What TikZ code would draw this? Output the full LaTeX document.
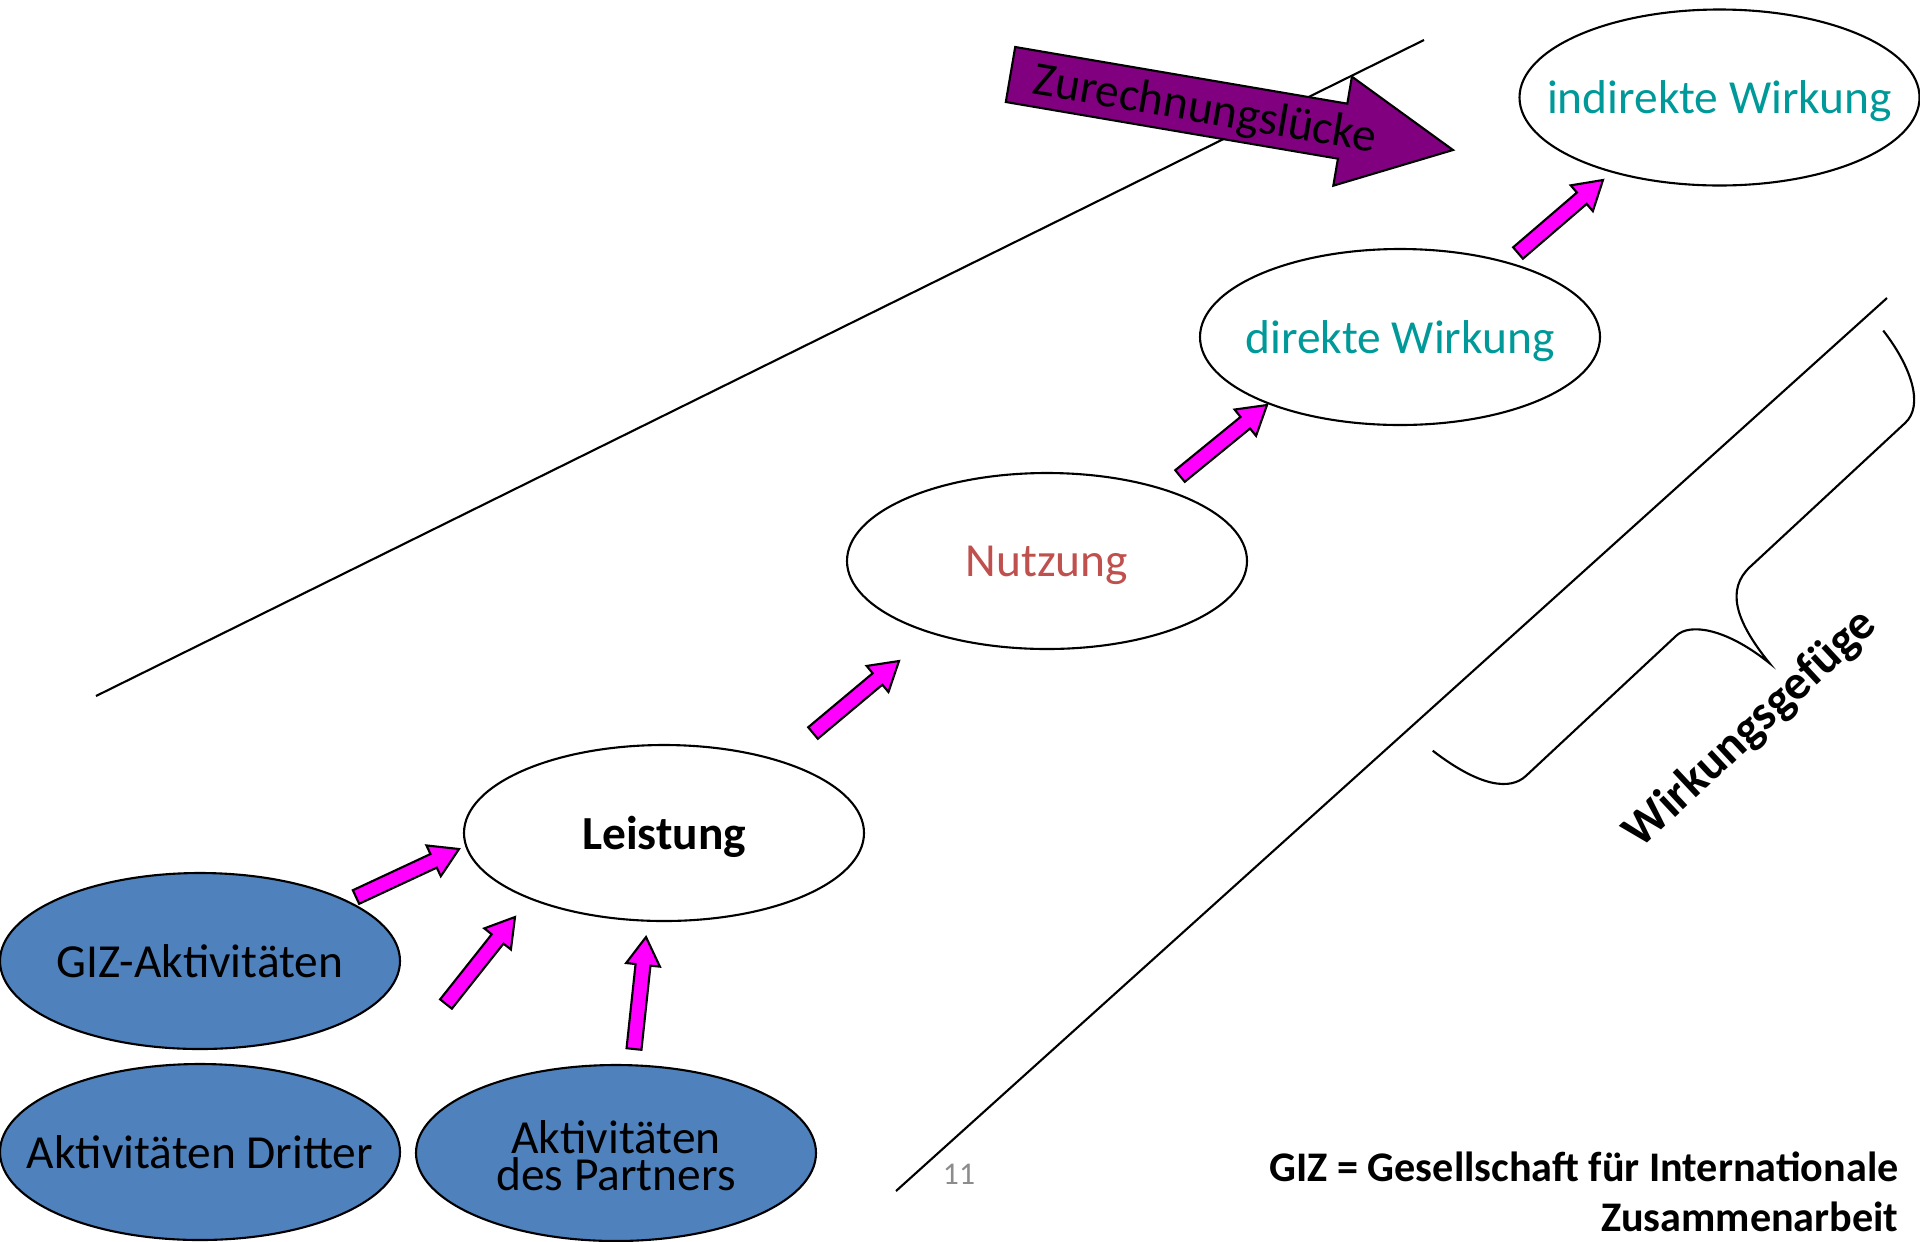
\documentclass[tikz,border=0pt]{standalone}
\usepackage{fontspec}
\setmainfont{Carlito}
\usetikzlibrary{calc, shapes.geometric}

\definecolor{actblue}{HTML}{4F81BD}
\definecolor{effteal}{HTML}{009999}
\definecolor{usered}{HTML}{C0504D}
\definecolor{steppink}{HTML}{FF00FF}
\definecolor{gappurple}{HTML}{800080}

% block arrow: style, tail, tip, shaft half width, head half width, head length
\newcommand{\blockarrow}[6]{%
  \path ($(#3)!#6!(#2)$) coordinate (neck);
  \draw[#1] ($(#2)!#4!90:(#3)$) -- ($(neck)!#4!90:(#3)$)
    -- ($(neck)!#5!90:(#3)$) -- (#3) -- ($(neck)!#5!-90:(#3)$)
    -- ($(neck)!#4!-90:(#3)$) -- ($(#2)!#4!-90:(#3)$) -- cycle;}

\begin{document}
\begin{tikzpicture}[
    oval/.style={draw, ellipse, fill=white, minimum width=4cm,
                 minimum height=1.76cm, inner sep=0pt, line width=0.6pt},
    act/.style={oval, fill=actblue},
    lbl/.style={font=\fontsize{13.5}{10.5}\selectfont, align=center},
    lbl low/.style={lbl, yshift=-0.04cm},
    step arrow/.style={fill=steppink, draw=black, line width=0.6pt},
    gap arrow/.style={fill=gappurple, draw=black, line width=0.6pt},
    border/.style={line width=0.6pt}
]
\useasboundingbox (0,0) rectangle (19.2,-12.41);

% Dividing lines
\draw[border] (0.96,-6.96) -- (14.24,-0.40);
\draw[border] (8.96,-11.91) -- (18.87,-2.98);

% Result chain
\node[oval, label={[lbl low, text=effteal]center:indirekte Wirkung}] (ind) at (17.195,-0.975) {};
\node[oval, label={[lbl low, text=effteal]center:direkte Wirkung}] (dir) at (14.0,-3.37) {};
\node[oval, label={[lbl low, text=usered]center:Nutzung}] (use) at (10.47,-5.61) {};
\node[oval, label={[lbl low, font=\fontsize{13.5}{10.5}\selectfont\bfseries]center:Leistung}] (out) at (6.64,-8.33) {};

% Activities
\node[act, label={[lbl]center:GIZ-Aktivitäten}] (giz) at (2.0,-9.61) {};
\node[act, label={[lbl]center:Aktivitäten Dritter}] (third) at (2.0,-11.52) {};
\node[act, label={[lbl, yshift=-0.03cm]center:{Aktivitäten\\des Partners}}] (partner) at (6.16,-11.53) {};

% Arrow ends
\coordinate (a1s) at (3.56,-8.97);   \coordinate (a1e) at (4.59,-8.49);
\coordinate (a2s) at (4.46,-10.04);  \coordinate (a2e) at (5.15,-9.17);
\coordinate (a3s) at (6.34,-10.49);  \coordinate (a3e) at (6.46,-9.37);
\coordinate (a4s) at (8.13,-7.33);   \coordinate (a4e) at (8.99,-6.61);
\coordinate (a5s) at (11.80,-4.76);  \coordinate (a5e) at (12.67,-4.05);
\coordinate (a6s) at (15.18,-2.53);  \coordinate (a6e) at (16.03,-1.80);
\coordinate (zs) at (10.105,-0.745); \coordinate (ze) at (14.53,-1.50);

% Pink arrows
\foreach \i in {1,...,6}
  \blockarrow{step arrow}{a\i s}{a\i e}{0.075cm}{0.17cm}{0.28cm};

% Attribution gap
\blockarrow{gap arrow}{zs}{ze}{0.279cm}{0.553cm}{1.12cm}
\path (zs) -- (ze) node[pos=0.44, sloped, lbl, yshift=-0.03cm] {Zurechnungslücke};

% Brace
\begin{scope}[shift={(14.327,-7.507)}, rotate=43]
  \draw[border] (0,0) .. controls (0.1,-0.6) and (0.3,-0.82) .. (0.51,-0.82)
    -- (2.57,-0.82) .. controls (2.75,-0.82) and (2.98,-1.1) .. (3.06,-1.656)
    .. controls (3.1,-1.1) and (3.25,-0.82) .. (3.575,-0.82)
    -- (5.687,-0.825) .. controls (5.95,-0.83) and (6.12,-0.45) .. (6.16,0);
\end{scope}
\node[font=\fontsize{13.8}{16}\selectfont\bfseries, rotate=43] (wg) at (17.51,-7.29) {Wirkungsgefüge};

% Footer
\node[font=\fontsize{9}{10}\selectfont, text=black!45] (page) at (9.59,-11.74) {11};
\node[font=\fontsize{12}{14.2}\selectfont\bfseries, align=right, anchor=east] (note)
  at (19.11,-11.92) {GIZ = Gesellschaft für Internationale\\Zusammenarbeit};
\end{tikzpicture}
\end{document}
